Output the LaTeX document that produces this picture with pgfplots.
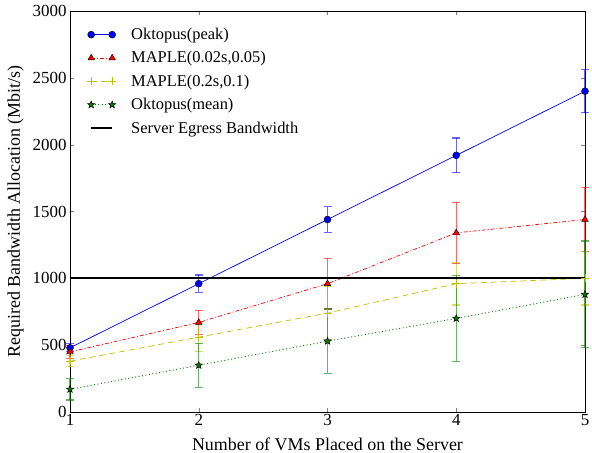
\documentclass[border=0pt]{standalone}
\usepackage{pgfplots}
\pgfplotsset{compat=1.18}
\usepackage{fontspec}
\setmainfont{Liberation Serif}
\definecolor{mplgreen}{rgb}{0,0.5,0}
\definecolor{mplyellow}{rgb}{0.75,0.75,0}
\pgfdeclareplotmark{fstar}{%
  \pgfpathmoveto{\pgfpointpolar{90}{\pgfplotmarksize}}%
  \pgfpathlineto{\pgfpointpolar{126}{0.42\pgfplotmarksize}}%
  \pgfpathlineto{\pgfpointpolar{162}{\pgfplotmarksize}}%
  \pgfpathlineto{\pgfpointpolar{198}{0.42\pgfplotmarksize}}%
  \pgfpathlineto{\pgfpointpolar{234}{\pgfplotmarksize}}%
  \pgfpathlineto{\pgfpointpolar{270}{0.42\pgfplotmarksize}}%
  \pgfpathlineto{\pgfpointpolar{306}{\pgfplotmarksize}}%
  \pgfpathlineto{\pgfpointpolar{342}{0.42\pgfplotmarksize}}%
  \pgfpathlineto{\pgfpointpolar{18}{\pgfplotmarksize}}%
  \pgfpathlineto{\pgfpointpolar{54}{0.42\pgfplotmarksize}}%
  \pgfpathclose
  \pgfusepathqfillstroke
}
\begin{document}
\begin{tikzpicture}[x=1bp,y=1bp]
\begin{axis}[
  at={(70bp,41bp)}, anchor=south west,
  scale only axis,
  width=515bp, height=401bp,
  xmin=1, xmax=5, ymin=0, ymax=3000,
  xtick={1,2,3,4,5},
  ytick={0,500,1000,1500,2000,2500,3000},
  tick align=inside,
  tick pos=both,
  major tick length=4bp,
  /pgf/number format/assume math mode=true,
  /pgf/number format/1000 sep={},
  tick label style={font=\fontsize{17}{19}\selectfont},
  xticklabel style={yshift=1bp},
  label style={font=\fontsize{18}{20}\selectfont},
  xlabel={Number of VMs Placed on the Server},
  ylabel={Required Bandwidth Allocation (Mbit/s)},
  xlabel style={yshift=-5bp},
  ylabel style={yshift=2bp},
  legend style={draw=none, fill=none, at={(0,1)}, anchor=north west,
    xshift=14bp, yshift=-13bp,
    font=\fontsize{16.5}{19}\selectfont, row sep=6.5bp, cells={anchor=west}},
  legend image code/.code={
    \path[draw=none,fill=none] (0bp,0bp) -- (38bp,0bp);
    \draw[#1] (0bp,0bp) -- (21bp,0bp);
    \draw[#1,solid] plot[] coordinates {(0bp,0bp)};
    \draw[#1,solid] plot[] coordinates {(21bp,0bp)};
  },
  clip=false,
]
\addplot[blue, solid, line width=0.7pt, mark=*, mark size=3.5bp,
  mark options={fill=blue, draw=black, line width=0.4pt},
  error bars/.cd, y dir=both, y explicit,
  error bar style={blue, draw opacity=0.6, line width=1.2pt}, error mark options={rotate=90, mark size=4bp, blue, draw opacity=0.6, line width=1.2pt}]
  coordinates {(1,480) +- (0,30) (2,960) +- (0,65) (3,1440) +- (0,95) (4,1920) +- (0,130) (5,2400) +- (0,160)};
\addlegendentry{Oktopus(peak)}
\addplot[red, dash pattern=on 4pt off 2pt on 1pt off 2pt, line width=0.7pt, mark=triangle*, mark size=3.8bp,
  mark options={fill=red, draw=black, solid, line width=0.4pt},
  error bars/.cd, y dir=both, y explicit,
  error bar style={red, draw opacity=0.6, line width=1.2pt, solid}, error mark options={rotate=90, mark size=4bp, red, draw opacity=0.6, line width=1.2pt}]
  coordinates {(1,450) +- (0,50) (2,670) +- (0,90) (3,960) +- (0,190) (4,1340) +- (0,230) (5,1440) +- (0,240)};
\addlegendentry{MAPLE(0.02s,0.05)}
\addplot[mplyellow, dash pattern=on 6pt off 4pt, line width=0.7pt, mark=+, mark size=4bp,
  mark options={solid, line width=0.7pt, draw=mplyellow},
  error bars/.cd, y dir=both, y explicit,
  error bar style={mplyellow, draw opacity=0.6, line width=1.2pt, solid}, error mark options={rotate=90, mark size=4bp, mplyellow, draw opacity=0.6, line width=1.2pt}]
  coordinates {(1,380) +- (0,40) (2,560) +- (0,110) (3,740) +- (0,200) (4,960) +- (0,160) (5,1000) +- (0,200)};
\addlegendentry{MAPLE(0.2s,0.1)}
\addplot[mplgreen, dash pattern=on 1pt off 2.5pt, line width=0.9pt, mark=fstar, mark size=3.8bp,
  mark options={solid, draw=black, fill=mplgreen, line width=0.5pt},
  error bars/.cd, y dir=both, y explicit,
  error bar style={mplgreen, draw opacity=0.6, line width=1.2pt, solid}, error mark options={rotate=90, mark size=4bp, mplgreen, draw opacity=0.6, line width=1.2pt}]
  coordinates {(1,170) +- (0,80) (2,350) +- (0,165) (3,530) +- (0,240) (4,700) +- (0,320) (5,880) +- (0,400)};
\addlegendentry{Oktopus(mean)}
\addplot[black, line width=2pt, no marks] coordinates {(1,1000) (5,1000)};
\addlegendentry{Server Egress Bandwidth}
\end{axis}
\pgfresetboundingbox
\useasboundingbox (0bp,0bp) rectangle (592bp,453bp);
\end{tikzpicture}
\end{document}
